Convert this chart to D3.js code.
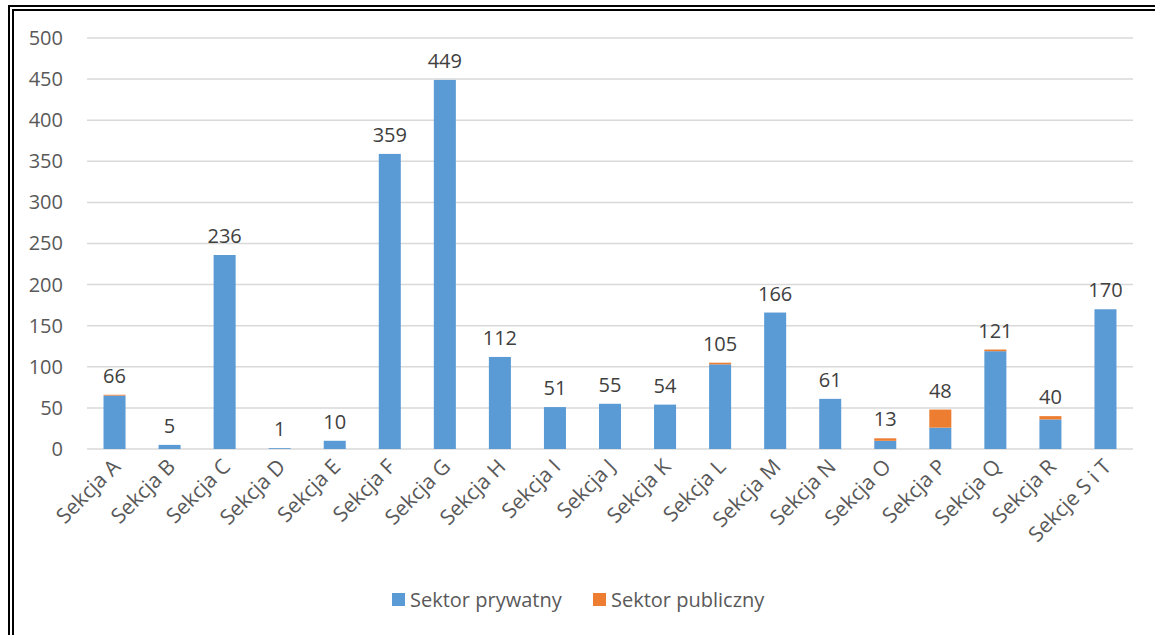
<!DOCTYPE html>
<html>
<head>
<meta charset="utf-8">
<script src="https://cdn.jsdelivr.net/npm/d3@7"></script>
<style>
  body { margin: 0; background: #fff; }
  text { font-family: "Open Sans", sans-serif; }
</style>
</head>
<body>
<svg id="chart"></svg>
<script>
const sekcje = ['Sekcja A','Sekcja B','Sekcja C','Sekcja D','Sekcja E','Sekcja F','Sekcja G','Sekcja H','Sekcja I','Sekcja J','Sekcja K','Sekcja L','Sekcja M','Sekcja N','Sekcja O','Sekcja P','Sekcja Q','Sekcja R','Sekcje S i T']
const prywatny = [65, 5, 236, 1, 10, 359, 449, 112, 51, 55, 54, 103, 166, 61, 10, 26, 119, 36, 170]
const publiczny = [1, 0, 0, 0, 0, 0, 0, 0, 0, 0, 0, 2, 0, 0, 3, 22, 2, 4, 0]
const yTicks = [0, 50, 100, 150, 200, 250, 300, 350, 400, 450, 500]
const serie = ['Sektor prywatny', 'Sektor publiczny']

const width = 1155, height = 635
const kolory = ['#5B9BD5', '#ED7D31']

const svg = d3.select('#chart').attr('width', width).attr('height', height)

// ramka (podwójna linia)
svg.append('rect').attr('x', 9).attr('y', 6).attr('width', 1160).attr('height', 700)
  .attr('fill', 'none').attr('stroke', '#000').attr('stroke-width', 2)
svg.append('rect').attr('x', 13).attr('y', 10).attr('width', 1160).attr('height', 700)
  .attr('fill', 'none').attr('stroke', '#000').attr('stroke-width', 2)

const margin = {left: 87, right: 1133, top: 38, bottom: 449}

const x = d3.scaleBand()
  .domain(sekcje)
  .range([margin.left, margin.right])
  .paddingInner(0.6)
  .paddingOuter(0.3)

const y = d3.scaleLinear().domain([0, 500]).range([margin.bottom, margin.top])

// siatka
svg.append('g').selectAll('line')
  .data(yTicks)
  .join('line')
  .attr('x1', margin.left).attr('x2', margin.right)
  .attr('y1', d => y(d)).attr('y2', d => y(d))
  .attr('stroke', '#D9D9D9').attr('stroke-width', 1.5)

const yAxis = svg.append('g')
  .attr('transform', 'translate(' + (margin.left - 24) + ',0)')
  .call(d3.axisLeft(y).tickValues(yTicks).tickSize(0).tickPadding(0))
yAxis.select('.domain').remove()
yAxis.selectAll('text').attr('fill', '#595959').style('font-size', '20px')
  .style('font-family', '"Open Sans", sans-serif')

const dane = sekcje.map((s, i) => ({sekcja: s, prywatny: prywatny[i], publiczny: publiczny[i]}))
const stos = d3.stack().keys(['prywatny', 'publiczny'])(dane)

svg.append('g').selectAll('g')
  .data(stos)
  .join('g')
  .attr('fill', (d, i) => kolory[i])
  .selectAll('rect')
  .data(d => d)
  .join('rect')
  .attr('x', d => x(d.data.sekcja))
  .attr('width', x.bandwidth())
  .attr('y', d => y(d[1]))
  .attr('height', d => y(d[0]) - y(d[1]))

// etykiety sum
svg.append('g').selectAll('text')
  .data(dane)
  .join('text')
  .attr('x', d => x(d.sekcja) + x.bandwidth() / 2)
  .attr('y', d => y(d.prywatny + d.publiczny) - 12)
  .attr('text-anchor', 'middle')
  .attr('fill', '#404040')
  .style('font-size', '20px')
  .text(d => d.prywatny + d.publiczny)

// etykiety osi X
svg.append('g').selectAll('text')
  .data(sekcje)
  .join('text')
  .attr('transform', d => 'translate(' + (x(d) + x.bandwidth() / 2 + 7) + ',468) rotate(-45)')
  .attr('text-anchor', 'end')
  .attr('fill', '#595959')
  .style('font-size', '21px')
  .text(d => d)

// legenda
const legX = [392, 593]
const leg = svg.append('g').selectAll('g')
  .data(serie)
  .join('g')
  .attr('transform', (d, i) => 'translate(' + legX[i] + ',593)')
leg.append('rect').attr('width', 13).attr('height', 13).attr('fill', (d, i) => kolory[i])
leg.append('text').attr('x', 18).attr('y', 14)
  .attr('fill', '#595959').style('font-size', '20px').text(d => d)
</script>
</body>
</html>
